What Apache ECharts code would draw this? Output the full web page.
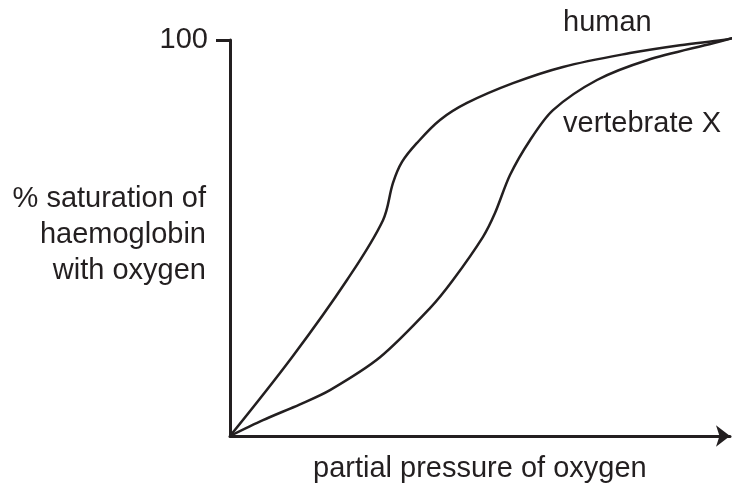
<!DOCTYPE html>
<html>
<head>
<meta charset="utf-8">
<script src="https://cdn.jsdelivr.net/npm/echarts@6/dist/echarts.min.js"></script>
<style>
  html, body { margin: 0; padding: 0; background: #fff; }
  #chart { width: 736px; height: 483px; }
</style>
</head>
<body>
<div id="chart"></div>
<script>
// partial pressure (x, 0..100) and % saturation (y)
const humanX = [0, 12.4, 23.4, 30.6, 32.6, 34.4, 37.4, 42.0, 47.4, 56.6, 66.6, 80.0, 90.0, 98.6, 100.6]
const humanY = [0, 19.9, 39.4, 54.5, 63.9, 69.2, 74.0, 79.8, 84.1, 89.1, 93.2, 96.7, 98.7, 100, 100.5]
const vertX = [0, 6.6, 14.0, 20.0, 30.0, 40.0, 44.6, 50.6, 53.0, 56.0, 60.0, 64.6, 73.4, 83.4, 96.6, 100.6]
const vertY = [0, 4.0, 8.0, 11.6, 19.9, 32.3, 39.4, 50.3, 56.3, 65.9, 74.7, 82.3, 89.9, 94.9, 99.2, 100.5]
const yTicks = [100]
const yTitle = ['% saturation of', 'haemoglobin', 'with oxygen']
const xTitle = 'partial pressure of oxygen'
const seriesNames = ['human', 'vertebrate X']

const ink = '#231f20'
const font = 'Liberation Sans, Arial, sans-serif'

const chart = echarts.init(document.getElementById('chart'))

const pairs = (xs, ys) => xs.map((x, i) => [x, ys[i]])

const option = {
  animation: false,
  backgroundColor: '#fff',
  grid: { left: 230, right: 6, top: 40, bottom: 47 },
  xAxis: {
    type: 'value',
    min: 0,
    max: 100,
    axisLine: {
      show: true,
      symbol: ['none', 'arrow'],
      symbolSize: [16, 14],
      lineStyle: { color: ink, width: 3 }
    },
    axisTick: { show: false },
    axisLabel: { show: false },
    splitLine: { show: false }
  },
  yAxis: {
    type: 'value',
    min: 0,
    max: 100,
    interval: 100,
    axisLine: { show: true, lineStyle: { color: ink, width: 3 } },
    axisTick: {
      show: true,
      length: 14,
      customValues: yTicks,
      lineStyle: { color: ink, width: 3 }
    },
    axisLabel: {
      customValues: yTicks,
      margin: 22,
      color: ink,
      fontSize: 29,
      fontFamily: font
    },
    splitLine: { show: false }
  },
  graphic: [
    {
      type: 'text', x: 563, y: 23,
      style: { text: seriesNames[0], fill: ink, fontSize: 29, fontFamily: font, verticalAlign: 'middle' }
    },
    {
      type: 'text', x: 563, y: 124,
      style: { text: seriesNames[1], fill: ink, fontSize: 29, fontFamily: font, verticalAlign: 'middle' }
    },
    ...yTitle.map((t, i) => ({
      type: 'text', x: 206, y: 199 + i * 36,
      style: { text: t, fill: ink, fontSize: 29, fontFamily: font, align: 'right', verticalAlign: 'middle' }
    })),
    {
      type: 'text', x: 313, y: 469,
      style: { text: xTitle, fill: ink, fontSize: 29, fontFamily: font, verticalAlign: 'middle' }
    }
  ],
  series: [
    {
      name: seriesNames[0],
      type: 'line',
      data: pairs(humanX, humanY),
      smooth: 0.35,
      clip: false,
      symbol: 'none',
      lineStyle: { color: ink, width: 2.5 }
    },
    {
      name: seriesNames[1],
      type: 'line',
      data: pairs(vertX, vertY),
      smooth: 0.3,
      clip: false,
      symbol: 'none',
      lineStyle: { color: ink, width: 2.5 }
    }
  ]
}

chart.setOption(option)
</script>
</body>
</html>
